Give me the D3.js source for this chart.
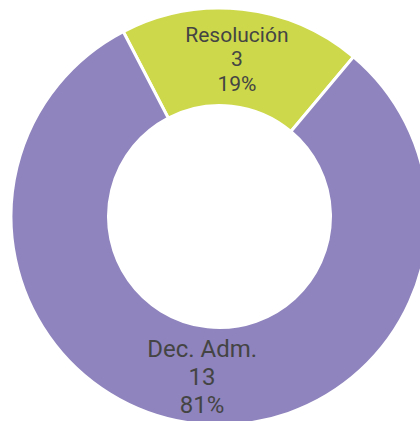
<!DOCTYPE html>
<html>
<head>
<meta charset="utf-8">
<script src="https://cdn.jsdelivr.net/npm/d3@7"></script>
<style>
  html, body { margin: 0; padding: 0; background: #fff; overflow: hidden; }
  svg { display: block; }
</style>
</head>
<body>
<div id="chart"></div>
<script>
  // datos
  var categories = ['Resolución', 'Dec. Adm.']
  var values = [3, 13]
  var colors = ['#cdd84a', '#8f84bd']
  var labelSizes = [21, 24] // tamaño de letra por sector

  var width = 420
  var height = 421
  var cx = 219.5
  var cy = 216.5
  var outerR = 208.5
  var innerR = 111
  var startDeg = -27.5 // inicio del primer sector

  var data = categories.map(function(c, i) {
    return { name: c, value: values[i], color: colors[i], size: labelSizes[i] }
  })
  var total = d3.sum(values)

  var svg = d3.select('#chart').append('svg')
    .attr('width', width)
    .attr('height', height)

  var g = svg.append('g')
    .attr('transform', 'translate(' + cx + ',' + cy + ')')

  var start = startDeg * Math.PI / 180
  var pie = d3.pie()
    .value(function(d) { return d.value })
    .sort(null)
    .startAngle(start)
    .endAngle(start + 2 * Math.PI)

  var arc = d3.arc()
    .innerRadius(innerR)
    .outerRadius(outerR)

  var arcs = pie(data)

  g.selectAll('path.slice')
    .data(arcs)
    .enter()
    .append('path')
    .attr('class', 'slice')
    .attr('d', arc)
    .attr('fill', function(d) { return d.data.color })
    .attr('stroke', '#fff')
    .attr('stroke-width', 3)

  // etiquetas: nombre, valor, porcentaje
  var labels = g.selectAll('text.lbl')
    .data(arcs)
    .enter()
    .append('text')
    .attr('class', 'lbl')
    .attr('transform', function(d) {
      var c = arc.centroid(d)
      return 'translate(' + c[0] + ',' + c[1] + ')'
    })
    .attr('text-anchor', 'middle')
    .attr('font-family', 'Roboto, sans-serif')
    .attr('font-size', function(d) { return d.data.size })
    .attr('fill', '#444')

  labels.selectAll('tspan')
    .data(function(d) {
      var pct = Math.round(d.data.value / total * 100) + '%'
      return [d.data.name, d.data.value, pct]
    })
    .enter()
    .append('tspan')
    .attr('x', 0)
    .attr('y', function(d, i) { return ((i - 1) * 1.17 + 0.4) + 'em' })
    .text(function(d) { return d })
</script>
</body>
</html>
